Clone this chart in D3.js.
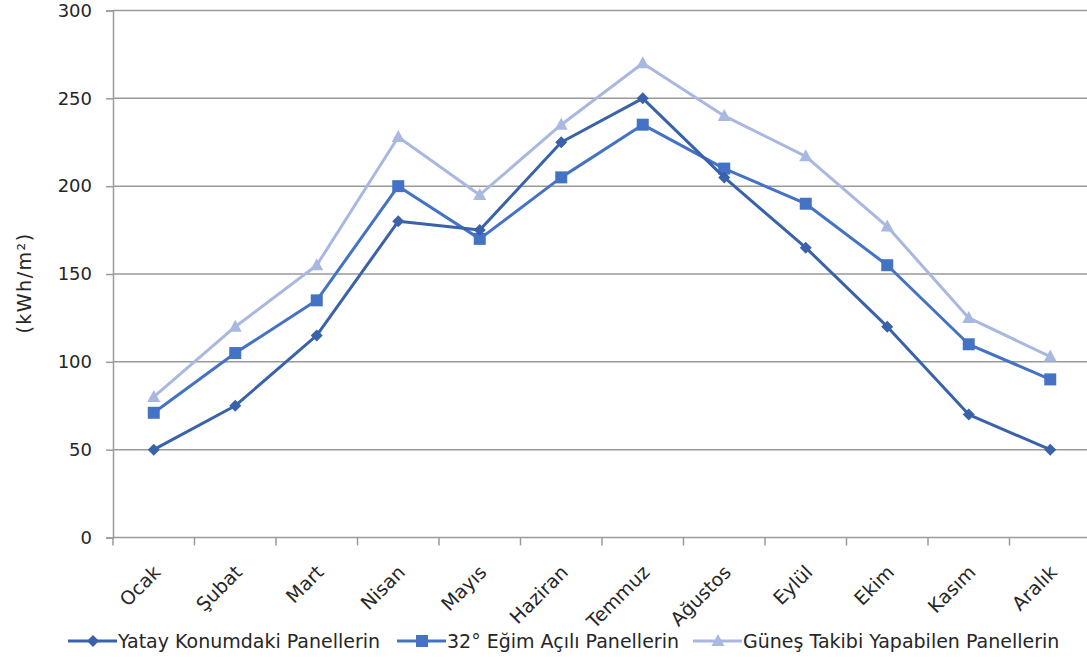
<!DOCTYPE html>
<html>
<head>
<meta charset="utf-8">
<script src="https://cdn.jsdelivr.net/npm/d3@7"></script>
<style>
  html, body { margin: 0; padding: 0; background: #fff; }
  svg { display: block; }
  text { font-family: "DejaVu Sans", Verdana, sans-serif; fill: #262626; }
</style>
</head>
<body>
<svg id="chart" width="1087" height="661"></svg>
<script>
// Monthly solar energy per panel orientation (kWh/m²)
const months = ["Ocak", "Şubat", "Mart", "Nisan", "Mayıs", "Haziran",
                "Temmuz", "Ağustos", "Eylül", "Ekim", "Kasım", "Aralık"];
const yatay   = [50, 75, 115, 180, 175, 225, 250, 205, 165, 120, 70, 50];
const egimli  = [71, 105, 135, 200, 170, 205, 235, 210, 190, 155, 110, 90];
const takipli = [80, 120, 155, 228, 195, 235, 270, 240, 217, 177, 125, 103];
const yTicks  = [0, 50, 100, 150, 200, 250, 300];
const seriesNames = ["Yatay Konumdaki Panellerin", "32° Eğim Açılı Panellerin",
                     "Güneş Takibi Yapabilen Panellerin"];
const yTitle = "(kWh/m²)";

const series = [
  { name: seriesNames[0], values: yatay,   color: "#3A62AA", marker: "diamond" },
  { name: seriesNames[1], values: egimli,  color: "#4472C4", marker: "square" },
  { name: seriesNames[2], values: takipli, color: "#A9B8E0", marker: "triangle" }
];

const svg = d3.select("#chart");
const plotLeft = 113, plotTop = 10.5, plotBottom = 537.5, step = 81.5;

const x = d3.scaleBand().domain(months).range([plotLeft, plotLeft + step * months.length]).padding(0);
const y = d3.scaleLinear().domain([0, 300]).range([plotBottom, plotTop]);

// horizontal gridlines
svg.append("g").selectAll("line").data(yTicks.filter(d => d > 0)).join("line")
  .attr("x1", plotLeft).attr("x2", 1087)
  .attr("y1", d => y(d)).attr("y2", d => y(d))
  .attr("stroke", "#9a9a9a").attr("stroke-width", 1.5);

// y axis
const yAxis = svg.append("g").attr("transform", `translate(${plotLeft},0)`)
  .call(d3.axisLeft(y).tickValues(yTicks).tickSize(7).tickPadding(14));
yAxis.select(".domain").attr("stroke", "#9a9a9a").attr("stroke-width", 1.5);
yAxis.selectAll(".tick line").attr("stroke", "#9a9a9a").attr("stroke-width", 1.5);
yAxis.selectAll(".tick text").attr("font-size", 18)
  .attr("font-family", "DejaVu Sans, Verdana, sans-serif").attr("fill", "#262626");

// x axis with tick marks at category boundaries
const xAxis = svg.append("g").attr("transform", `translate(0,${plotBottom})`);
xAxis.append("line").attr("x1", plotLeft).attr("x2", 1087).attr("y1", 0).attr("y2", 0)
  .attr("stroke", "#9a9a9a").attr("stroke-width", 1.5);
xAxis.selectAll("line.tk").data(months).join("line").attr("class", "tk")
  .attr("x1", d => x(d)).attr("x2", d => x(d)).attr("y1", 0).attr("y2", 8)
  .attr("stroke", "#9a9a9a").attr("stroke-width", 1.5);
xAxis.selectAll("text").data(months).join("text")
  .attr("transform", d => `translate(${x(d) + x.bandwidth() / 2 + 8},${36}) rotate(-45)`)
  .attr("text-anchor", "end")
  .attr("font-size", 19)
  .text(d => d);

// y axis title
svg.append("text")
  .attr("transform", `translate(31,283) rotate(-90)`)
  .attr("text-anchor", "middle")
  .attr("font-size", 19)
  .attr("letter-spacing", 1.5)
  .text(yTitle);

const cx = d => x(d) + x.bandwidth() / 2;
const line = d3.line().x((v, i) => cx(months[i])).y(v => y(v));

function drawMarker(g, type, color) {
  if (type === "diamond") {
    g.append("path").attr("d", "M0,-6L6,0L0,6L-6,0Z").attr("fill", color);
  } else if (type === "square") {
    g.append("rect").attr("x", -6).attr("y", -6).attr("width", 12).attr("height", 12).attr("fill", color);
  } else {
    g.append("path").attr("d", "M0,-7L6.5,5L-6.5,5Z").attr("fill", color);
  }
}

// draw series: light one first so darker lines sit on top
[2, 1, 0].forEach(k => {
  const s = series[k];
  svg.append("path").datum(s.values)
    .attr("d", line).attr("fill", "none")
    .attr("stroke", s.color).attr("stroke-width", 3).attr("stroke-linejoin", "round");
  s.values.forEach((v, i) => {
    const g = svg.append("g").attr("transform", `translate(${cx(months[i])},${y(v)})`);
    drawMarker(g, s.marker, s.color);
  });
});

// legend
const legendItems = [
  { s: series[0], x0: 68, tx: 118 },
  { s: series[1], x0: 397, tx: 447 },
  { s: series[2], x0: 693, tx: 743 }
];
const ly = 641;
legendItems.forEach(it => {
  const g = svg.append("g");
  g.append("line").attr("x1", it.x0).attr("x2", it.tx - 1).attr("y1", ly).attr("y2", ly)
    .attr("stroke", it.s.color).attr("stroke-width", 3);
  const m = g.append("g").attr("transform", `translate(${(it.x0 + it.tx) / 2},${ly})`);
  drawMarker(m, it.s.marker, it.s.color);
  g.append("text").attr("x", it.tx).attr("y", ly + 7).attr("font-size", 19).text(it.s.name);
});
</script>
</body>
</html>
